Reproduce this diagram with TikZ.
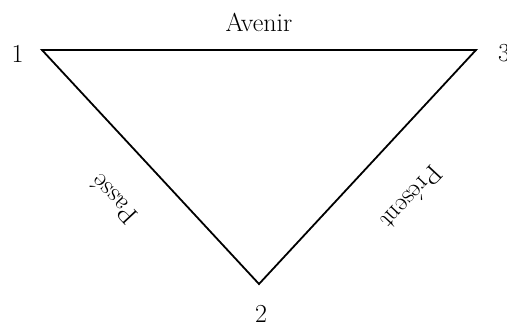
\documentclass[tikz,border=0pt]{standalone}
\usepackage{fontspec}
\begin{document}
\begin{tikzpicture}[x=1pt,y=1pt,
  lbl/.style={inner sep=0pt,font=\fontsize{26}{30}\selectfont},
  edge/.style={line width=1.8pt,line join=miter}]
\clip (0,0) rectangle (507,327);
\coordinate (v1) at (42,277);
\coordinate (v3) at (476,277);
\coordinate (v2) at (259,43);
\draw[edge] (v1) -- (v3) -- (v2) -- cycle;
\node[lbl] (n1) at (17.5,273.5) {1};
\node[lbl] (n3) at (504,274) {3};
\node[lbl] (n2) at (261,13) {2};
\node[lbl] (av) at (259,305) {Avenir};
\node[lbl,rotate=133] (pa) at (114,127) {Passé};
\node[lbl,rotate=-133] (pr) at (412,129) {Présent};
\end{tikzpicture}
\end{document}
